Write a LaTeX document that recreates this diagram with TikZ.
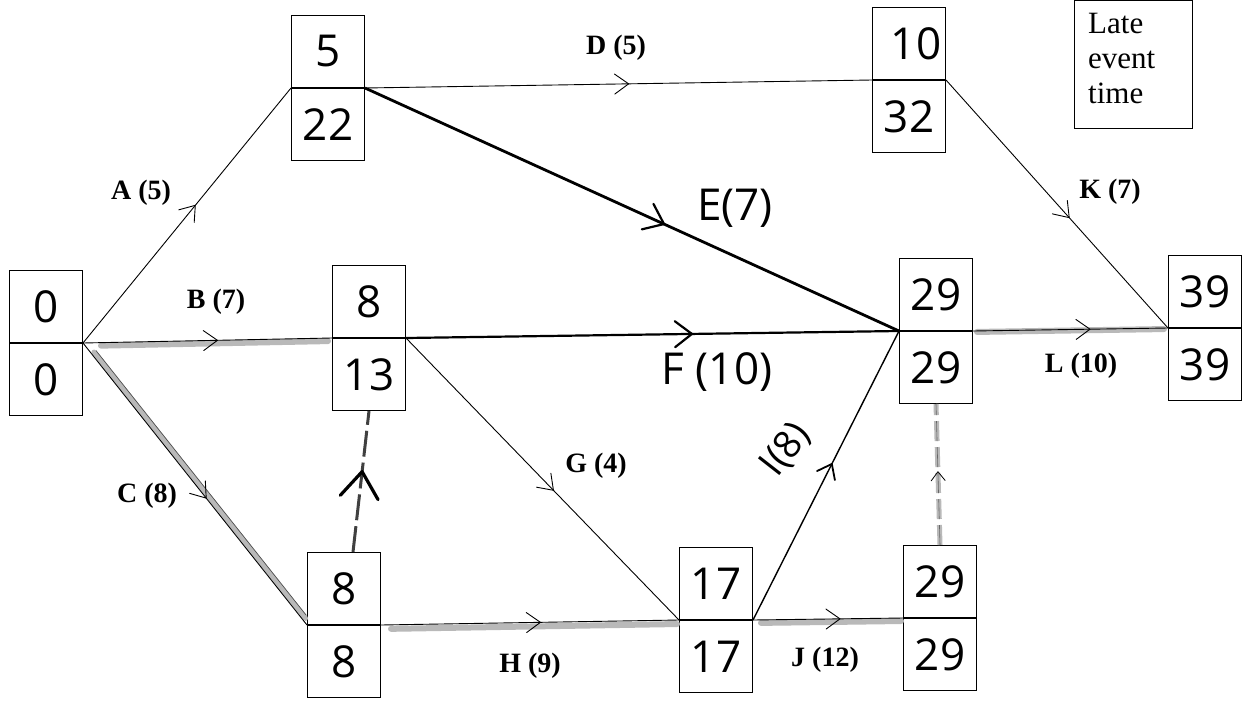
\documentclass[tikz,border=0pt]{standalone}
\usepackage{fontspec}
\setmainfont{Liberation Serif}
\newfontfamily\hand{Open Sans}
\usetikzlibrary{decorations.markings}

\newcommand\chev[3]{\draw[black, solid, line width=#3, line cap=round, line join=round] (-#1,#2) -- (0,0) -- (-#1,-#2);}
\tikzset{
 cell/.style={draw, line width=1pt, minimum width=73pt, minimum height=72pt, inner sep=0pt,
   font=\hand\fontsize{44}{46}\selectfont},
 act/.style={line width=0.9pt},
 mid/.style n args={4}{postaction={decorate}, decoration={markings,
   mark=at position #1 with {\chev{#2}{#3}{#4}}}},
 thinmid/.style={mid={#1}{14}{10}{0.9pt}},
 lbl/.style={font=\rmfamily\bfseries\fontsize{28}{30}\selectfont, inner sep=0pt},
 hlbl/.style={font=\hand\fontsize{44}{46}\selectfont, inner sep=0pt},
 crit/.style={line width=6pt, gray!55, line cap=round},
 legendbox/.style={draw, line width=1pt, minimum width=118pt, minimum height=128pt,
   inner sep=0pt, anchor=north west},
}
\newcommand\evbox[5]{%
 \node[cell, anchor=south west] (#1t) at (#2,#3) {#4};
 \node[cell, anchor=north west] (#1b) at (#2,#3) {#5};
}

\begin{document}
\begin{tikzpicture}[x=1pt,y=-1pt]
\useasboundingbox (0,0) rectangle (1245,704);

% event boxes
\evbox{s}{9}{343}{0}{0}
\evbox{a}{291}{88}{5}{22}
\evbox{d}{872}{80}{\hspace*{14pt}10}{32}
\evbox{b}{332}{338}{8}{13}
\evbox{f}{899}{331}{29}{29}
\evbox{z}{1168}{328}{39}{39}
\evbox{c}{307}{625}{8}{8}
\evbox{h}{679}{620}{17}{17}
\evbox{j}{903}{618}{29}{29}

% legend
\node[legendbox] (leg) at (1074,0) {};
\node[anchor=north west, align=left, inner sep=0pt,
  font=\rmfamily\fontsize{31}{35}\selectfont] (legtext) at (1088,13) {Late\\event\\time};

% critical-path shading
\draw[crit, shorten <=18pt, shorten >=4pt, transform canvas={yshift=-3pt}] (st.south east) -- (bt.south west);
\draw[crit, line width=5pt, shorten <=14pt, shorten >=6pt, transform canvas={xshift=2.3pt,yshift=1.9pt}] (st.south east) -- (ct.south west);
\draw[line width=0.7pt, black!70, shorten <=14pt, shorten >=8pt, transform canvas={xshift=4.3pt,yshift=3.4pt}] (st.south east) -- (ct.south west);
\draw[crit, shorten <=10pt, shorten >=2pt, transform canvas={yshift=-4pt}] (ct.south east) -- (ht.south west);
\draw[crit, shorten <=8pt, shorten >=2pt, transform canvas={yshift=-3pt}] (ht.south east) -- (jt.south west);
\draw[crit, shorten <=4pt, shorten >=4pt, transform canvas={yshift=-1pt}] (ft.south east) -- (zt.south west);

% activities
\draw[act, thinmid=0.54] (st.south east) -- (at.south west);
\draw[act, thinmid=0.54] (st.south east) -- (bt.south west);
\draw[act, thinmid=0.55] (st.south east) -- (ct.south west);
\draw[act, thinmid=0.52] (at.south east) -- (dt.south west);
\draw[line width=2.8pt, mid={0.56}{18}{14}{2.2pt}] (at.south east) -- (ft.south west);
\draw[line width=2.2pt, mid={0.58}{17}{13}{2.2pt}] (bt.south east) -- (ft.south west);
\draw[act, thinmid=0.54] (bt.south east) -- (ht.south west);
\draw[act, thinmid=0.535] (ct.south east) -- (ht.south west);
\draw[line width=1.4pt, mid={0.54}{13}{10}{1.8pt}] (ht.south east) -- (ft.south west);
\draw[act, thinmid=0.58] (ht.south east) -- (jt.south west);
\draw[act, thinmid=0.555] (dt.south east) -- (zt.south west);
\draw[act, thinmid=0.6] (ft.south east) -- (zt.south west);

% dummies
\coordinate (c1) at ([xshift=9pt]ct.north);
\draw[line width=3pt, black!75, dash pattern=on 26pt off 6pt,
  mid={0.57}{26}{19}{3.2pt}] (c1) -- (bb.south);
\draw[gray!55, line width=5pt, dash pattern=on 20pt off 6pt] (jt.north) -- (fb.south);
\draw[line width=0.6pt, black!60, dash pattern=on 20pt off 6pt,
  mid={0.52}{9}{7}{0.8pt}] (jt.north) -- (fb.south);

% labels
\node[lbl] (la) at (141,193) {A (5)};
\node[lbl] (lb) at (216,302) {B (7)};
\node[lbl] (lc) at (147,496) {C (8)};
\node[lbl] (ld) at (616,48) {D (5)};
\node[hlbl] (le) at (735,208) {E(7)};
\node[hlbl] (lf) at (717,372) {F (10)};
\node[lbl] (lg) at (596,466) {G (4)};
\node[lbl] (lh) at (530,666) {H (9)};
\node[hlbl, rotate=52, font=\hand\fontsize{38}{40}\selectfont] (li) at (786,450) {I(8)};
\node[lbl] (lj) at (825,660) {J (12)};
\node[lbl] (lk) at (1110,192) {K (7)};
\node[lbl] (ll) at (1081,366) {L (10)};
\end{tikzpicture}
\end{document}
